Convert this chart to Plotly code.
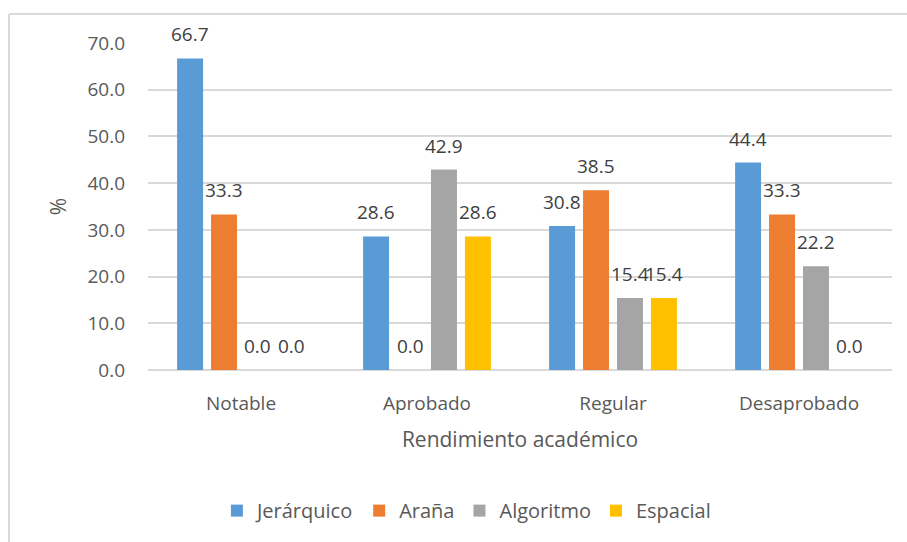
import plotly.graph_objects as go

categories = ["Notable", "Aprobado", "Regular", "Desaprobado"]
series_names = ["Jerárquico", "Araña", "Algoritmo", "Espacial"]
jerarquico = [66.7, 28.6, 30.8, 44.4]
arana = [33.3, 0.0, 38.5, 33.3]
algoritmo = [0.0, 42.9, 15.4, 22.2]
espacial = [0.0, 28.6, 15.4, 0.0]
y_ticks = [0, 10, 20, 30, 40, 50, 60, 70]

colors = ["#5B9BD5", "#ED7D31", "#A5A5A5", "#FFC000"]
FONT = "Open Sans"
TXT = "#404040"
GRAY = "#595959"

W, H = 907, 542
ML, MR, MT, MB = 148, 15, 43, 172
BARGAP = 0.27
plot_w = W - ML - MR
slot = plot_w / len(categories) * (1 - BARGAP) / len(series_names)

fig = go.Figure()
annotations = []
all_series = [jerarquico, arana, algoritmo, espacial]
for i, (name, vals, c) in enumerate(zip(series_names, all_series, colors)):
    fig.add_trace(go.Bar(
        x=categories, y=vals, name=name, marker_color=c, marker_line_width=0,
    ))
    for cat, v in zip(categories, vals):
        annotations.append(dict(
            x=cat, y=v, xref="x", yref="y", text=f"{v:.1f}", showarrow=False,
            xshift=(i - (len(series_names) - 1) / 2) * slot, yshift=24,
            yanchor="middle", xanchor="center",
            font=dict(family=FONT, size=19, color=TXT),
        ))

fig.update_layout(
    width=W, height=H,
    margin=dict(l=ML, r=MR, t=MT, b=MB),
    paper_bgcolor="white", plot_bgcolor="white",
    barmode="group", bargap=BARGAP, bargroupgap=0.235,
    font=dict(family=FONT, color=GRAY),
    showlegend=True,
    legend=dict(orientation="h", x=0.428, xanchor="center", y=-0.43, yanchor="middle",
                font=dict(family=FONT, size=20, color=GRAY), itemwidth=30,
                traceorder="normal"),
    xaxis=dict(
        showgrid=False, showline=False, ticks="", ticklabelstandoff=20,
        tickfont=dict(family=FONT, size=19, color=GRAY),
        title=dict(text="Rendimiento académico", standoff=17,
                   font=dict(family=FONT, size=21, color=GRAY)),
    ),
    yaxis=dict(
        range=[0, 70], tickvals=y_ticks, tickformat=".1f",
        showgrid=True, gridcolor="#D9D9D9", gridwidth=2,
        zeroline=True, zerolinecolor="#D9D9D9", zerolinewidth=2,
        showline=False, ticks="", ticklabelstandoff=22,
        tickfont=dict(family=FONT, size=19, color=GRAY),
        title=dict(text="%", standoff=15, font=dict(family=FONT, size=21, color=GRAY)),
    ),
    annotations=annotations,
    shapes=[
        dict(type="line", xref="paper", yref="paper", x0=-0.1868, x1=1.03, y0=1.0887, y1=1.0887,
             line=dict(color="#D9D9D9", width=2)),
        dict(type="line", xref="paper", yref="paper", x0=-0.1868, x1=-0.1868, y0=1.0887, y1=-0.54,
             line=dict(color="#D9D9D9", width=2)),
    ],
)

fig.write_html("out.html")
